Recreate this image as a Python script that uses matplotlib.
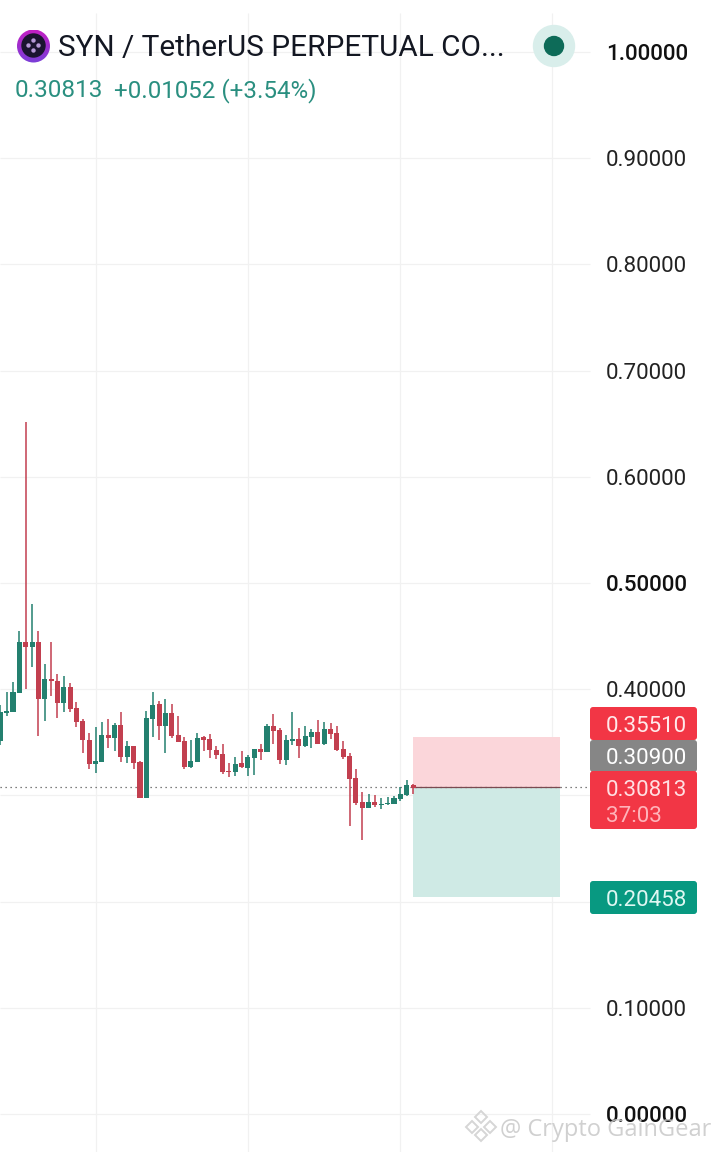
import numpy as np
import matplotlib
matplotlib.use("Agg")
import matplotlib.pyplot as plt
from matplotlib.patches import Circle, FancyBboxPatch, RegularPolygon

plt.rcParams['font.family'] = ['Roboto', 'DejaVu Sans']

# 蠟燭資料
opens = [.3515, .3772, .3785, .3967, .4444, .4397, .4444, .3907, .4099, .4077, .3870,
         .4020, .3822, .3703, .3521, .3295, .3314, .3571, .3540, .3662, .3361, .3464,
         .3314, .2978, .3719, .3860, .3653, .3775, .3568, .3512, .3267, .3314, .3549,
         .3534, .3427, .3389, .3229, .3220, .3304, .3257, .3351, .3436, .3408, .3653,
         .3615, .3333, .3512, .3530, .3464, .3549, .3596, .3483, .3625, .3587, .3436,
         .3370, .3163, .2937, .2880, .2937, .2912, .2918, .2918, .2965, .3003, .3097]
highs = [.3851, .3976, .4067, .4548, .6516, .4802, .4548, .4237, .4447, .4143, .4124,
         .4055, .3879, .3719, .3587, .3643, .3691, .3719, .3681, .3785, .3512, .3464,
         .3323, .3794, .3973, .3888, .3907, .3857, .3747, .3549, .3521, .3584, .3559,
         .3578, .3464, .3480, .3304, .3361, .3417, .3380, .3436, .3480, .3672, .3766,
         .3634, .3568, .3785, .3631, .3653, .3625, .3709, .3691, .3681, .3653, .3512,
         .3399, .3248, .3031, .3012, .3003, .2975, .2984, .2993, .3078, .3144, .3107]
lows = [.3474, .3747, .3785, .3967, .4001, .4209, .3559, .3700, .3939, .3728, .3785,
        .3788, .3643, .3395, .3248, .3210, .3314, .3446, .3414, .3314, .3304, .3248,
        .2978, .2978, .3549, .3521, .3399, .3540, .3502, .3248, .3257, .3314, .3414,
        .3351, .3342, .3201, .3172, .3182, .3257, .3182, .3191, .3333, .3408, .3483,
        .3295, .3285, .3474, .3348, .3455, .3446, .3483, .3474, .3530, .3417, .3339,
        .2711, .2909, .2579, .2880, .2893, .2871, .2909, .2918, .2946, .2993, .3012]
closes = [.3788, .3797, .3976, .4444, .4397, .4444, .3907, .4096, .4077, .3870, .4020,
          .3810, .3691, .3524, .3295, .3323, .3568, .3540, .3662, .3361, .3464, .3307,
          .2978, .3728, .3851, .3653, .3775, .3559, .3502, .3267, .3323, .3540, .3521,
          .3427, .3380, .3220, .3223, .3295, .3264, .3361, .3436, .3408, .3653, .3606,
          .3333, .3521, .3530, .3464, .3559, .3596, .3483, .3625, .3578, .3427, .3361,
          .3154, .2928, .2880, .2937, .2909, .2918, .2928, .2975, .3012, .3097, .3072]

tick_vals = [1.0, .9, .8, .7, .6, .5, .4, .1, 0.0]
tick_labels = ['1.00000', '0.90000', '0.80000', '0.70000', '0.60000', '0.50000',
               '0.40000', '0.10000', '0.00000']
bold_ticks = ['1.00000', '0.50000', '0.00000']
grid_vals = [1.0, .9, .8, .7, .6, .5, .4, .3, .2, .1, 0.0]
vgrid_idx = [15.0, 38.95, 63.0, 86.95]

last_price = 0.3079
stop_price = 0.3551
target_price = 0.20458

GREEN = '#23806f'
RED = '#c23f4f'
GRID = '#f1f1f1'

# 畫布: 7.2x11.52 @ 100dpi = 720x1152
fig = plt.figure(figsize=(7.2, 11.52), dpi=100, facecolor='white')
ax = fig.add_axes([0, 0, 1, 1])
ax.set_xlim(-0.3 / 6.35, 719.7 / 6.35)
ax.set_ylim(-38 / 1062, 1114 / 1062)
ax.axis('off')

# 格線
ax.hlines(grid_vals, ax.get_xlim()[0], 92.9, color=GRID, lw=0.9, zorder=1)
ax.vlines(vgrid_idx, ax.get_ylim()[0], 1.037, color=GRID, lw=0.9, zorder=1)

# 多空區塊
ax.fill_between([65, 88.2], last_price, stop_price, color='#fbd6da', lw=0, zorder=2)
ax.fill_between([65, 88.2], target_price, last_price, color='#cfeae5', lw=0, zorder=2)

# 現價線
ax.hlines(last_price, ax.get_xlim()[0], 93, color='#555555', lw=0.9,
          linestyle=(0, (1, 3)), zorder=2.5)
ax.hlines(last_price, 65, 88.2, color='#7a4a50', lw=0.9, zorder=2.6)

# 蠟燭
idx = np.arange(len(opens))
o = np.array(opens)
c = np.array(closes)
colors = [GREEN if b >= a else RED for a, b in zip(o, c)]
ax.vlines(idx, lows, highs, color=colors, lw=1.1, zorder=3)
ax.bar(idx, np.abs(c - o), bottom=np.minimum(o, c), width=0.8, color=colors, lw=0, zorder=4)

# 價格軸
for v, s in zip(tick_vals, tick_labels):
    ax.text(606 / 6.35 - 0.05, v, s, fontsize=16.1, ha='left', va='center_baseline',
            color='#111111' if s in bold_ticks else '#222222',
            fontweight='medium' if s in bold_ticks else 'normal', zorder=6)

# 像素座標的覆蓋層 (標題, 圖示, 標籤)
ov = fig.add_axes([0, 0, 1, 1])
ov.patch.set_alpha(0)
ov.axis('off')

grad = np.linspace(0, 1, 64).reshape(-1, 1)
cmap = matplotlib.colors.LinearSegmentedColormap.from_list('logo', ['#c21fc4', '#7a3fd8'])
im = ov.imshow(grad, extent=(17, 50, 63, 30), cmap=cmap, aspect='auto', zorder=5)
im.set_clip_path(Circle((33.5, 46), 16.5, transform=ov.transData))
ov.add_patch(Circle((33.5, 45.5), 11.5, color='#1b1430', zorder=6))
for dx, dy in [(0, -5), (-5, 0), (5, 0), (0, 5)]:
    ov.add_patch(Circle((33.5 + dx, 45.5 + dy), 1.5, color='#b79ad8', zorder=7))

ov.text(58, 44.5, 'SYN / TetherUS PERPETUAL CO...', fontsize=21.4, color='#131722',
        va='center_baseline', ha='left')
ov.text(15, 88, '0.30813', fontsize=17.5, color='#2a8f80', va='center_baseline', ha='left')
ov.text(114, 88, '+0.01052 (+3.54%)', fontsize=17.4, color='#2a8f80', va='center_baseline', ha='left')

ov.add_patch(Circle((554, 46), 20.5, color='#d9eeeb', zorder=5))
ov.add_patch(Circle((554, 46), 9.5, color='#0d6b58', zorder=6))

# 右側價格標籤
boxes = [(707, 33, '#f23645', '0.35510'), (740, 32, '#868686', '0.30900'),
         (771, 58, '#f23645', '0.30813'), (881, 33, '#089981', '0.20458')]
for top, h, col, s in boxes:
    ov.add_patch(FancyBboxPatch((590, top), 107, h, boxstyle='round,pad=0,rounding_size=3',
                                fc=col, ec='none', zorder=5))
for y, s, col in [(724, '0.35510', '#ffe9ea'), (755.5, '0.30900', 'white'),
                  (788, '0.30813', '#ffdfe2'), (898, '0.20458', '#dff7f2')]:
    ov.text(606, y, s, fontsize=16.1, color=col, ha='left', va='center_baseline', zorder=6)
ov.text(606, 814.5, '37:03', fontsize=16.1, color='#ffb3ba', ha='left', va='center_baseline', zorder=6)

# 浮水印
for px, py, r in [(481, 1117, 6), (472, 1127, 6), (490, 1127, 6), (481, 1135, 6)]:
    ov.add_patch(RegularPolygon((px, py), 4, radius=r, fc='none', ec='#d6d6d6', lw=1.4, zorder=8))
ov.text(500, 1127, '@ Crypto GainGear', fontsize=17, color='#c8c8c8', alpha=0.85,
        family=['Open Sans', 'DejaVu Sans'], ha='left', va='center_baseline', zorder=8)

ov.set_xlim(0, 720)
ov.set_ylim(1152, 0)

fig.savefig('out.png', dpi=100, facecolor='white')
